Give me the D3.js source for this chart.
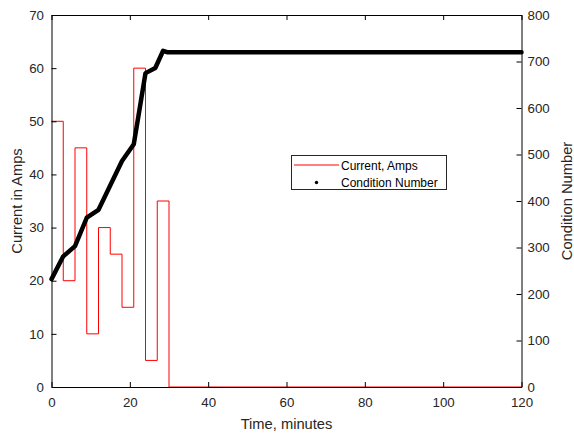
<!DOCTYPE html>
<html>
<head>
<meta charset="utf-8">
<script src="https://cdn.jsdelivr.net/npm/d3@7"></script>
<style>
  html, body { margin: 0; padding: 0; background: #fff; }
  svg { display: block; font-family: "Liberation Sans", Arial, sans-serif; }
</style>
</head>
<body>
<svg id="chart" width="574" height="434"></svg>
<script>
// Current step series: start time of each step (minutes) and current (Amps)
const stepStarts = [0, 3, 6, 9, 12, 15, 18, 21, 24, 27, 30, 120];
const currentAmps = [50, 20, 45, 10, 30, 25, 15, 60, 5, 35, 0, 0];

// Condition number series
const condTimes = [0, 3, 6, 9, 12, 18, 21, 24, 26.5, 28.5, 29.5, 120];
const condValues = [232, 281, 303, 364, 381, 486, 522, 675, 686, 723, 720, 720];

const xTicks = [0, 20, 40, 60, 80, 100, 120];
const yLeftTicks = [0, 10, 20, 30, 40, 50, 60, 70];
const yRightTicks = [0, 100, 200, 300, 400, 500, 600, 700, 800];

const svg = d3.select("#chart");
const L = 51.5, R = 521.5, T = 15, B = 387;

const x = d3.scaleLinear().domain([0, 120]).range([L, R]);
const yL = d3.scaleLinear().domain([0, 70]).range([B, T]);
const yR = d3.scaleLinear().domain([0, 800]).range([B, T]);

svg.append("rect").attr("x", L).attr("y", T).attr("width", R - L).attr("height", B - T).attr("fill", "#fff");

// current step line
const stepData = stepStarts.map((t, i) => ({t, v: currentAmps[i]}));
const stepLine = d3.line().x(d => x(d.t)).y(d => yL(d.v)).curve(d3.curveStepAfter);
svg.append("path").datum(stepData)
  .attr("d", stepLine)
  .attr("fill", "none").attr("stroke", "#ff0000").attr("stroke-width", 1);

// condition number (dense dot markers -> thick black trace)
const condData = condTimes.map((t, i) => ({t, v: condValues[i]}));
const condLine = d3.line().x(d => x(d.t)).y(d => yR(d.v));
svg.append("path").datum(condData)
  .attr("d", condLine)
  .attr("fill", "none").attr("stroke", "#000").attr("stroke-width", 4.5)
  .attr("stroke-linejoin", "round").attr("stroke-linecap", "round");

// axes
const fontTick = "13.3px";
const axStyle = g => {
  g.selectAll("path.domain").attr("stroke", "#000").attr("stroke-width", 1);
  g.selectAll(".tick line").attr("stroke", "#000");
  g.selectAll(".tick text").attr("fill", "#262626").style("font-size", fontTick).style("font-family", "Liberation Sans, Arial, sans-serif");
};

const xAxis = d3.axisBottom(x).tickValues(xTicks).tickSizeInner(-5).tickSizeOuter(0).tickPadding(11);
svg.append("g").attr("transform", `translate(0,${B})`).call(xAxis).call(axStyle);
const xTop = d3.axisTop(x).tickValues(xTicks).tickSizeInner(-5).tickSizeOuter(0).tickFormat("");
svg.append("g").attr("transform", `translate(0,${T})`).call(xTop).call(axStyle);

const yAxisL = d3.axisLeft(yL).tickValues(yLeftTicks).tickSizeInner(-5).tickSizeOuter(0).tickPadding(7.5);
svg.append("g").attr("transform", `translate(${L},0)`).call(yAxisL).call(axStyle);
const yAxisR = d3.axisRight(yR).tickValues(yRightTicks).tickSizeInner(-5).tickSizeOuter(0).tickPadding(6);
svg.append("g").attr("transform", `translate(${R},0)`).call(yAxisR).call(axStyle);

// axis labels
svg.append("text").attr("x", (L + R) / 2).attr("y", 429).attr("text-anchor", "middle")
  .style("font-size", "14.7px").attr("fill", "#262626").text("Time, minutes");
svg.append("text").attr("transform", `translate(22,${(T + B) / 2}) rotate(-90)`).attr("text-anchor", "middle")
  .style("font-size", "14.7px").attr("fill", "#262626").text("Current in Amps");
svg.append("text").attr("transform", `translate(572,${(T + B) / 2}) rotate(-90)`).attr("text-anchor", "middle")
  .style("font-size", "14.7px").attr("fill", "#262626").text("Condition Number");

// legend
const lg = svg.append("g");
lg.append("rect").attr("x", 291.5).attr("y", 155.5).attr("width", 155).attr("height", 34)
  .attr("fill", "#fff").attr("stroke", "#262626").attr("stroke-width", 1);
lg.append("line").attr("x1", 294).attr("x2", 339).attr("y1", 165).attr("y2", 165)
  .attr("stroke", "#ff0000").attr("stroke-width", 1);
lg.append("circle").attr("cx", 316.5).attr("cy", 182.5).attr("r", 1.7).attr("fill", "#000");
lg.append("text").attr("x", 341).attr("y", 169.5).style("font-size", "12px").attr("fill", "#000").text("Current, Amps");
lg.append("text").attr("x", 341).attr("y", 186.5).style("font-size", "12px").attr("fill", "#000").text("Condition Number");
</script>
</body>
</html>
